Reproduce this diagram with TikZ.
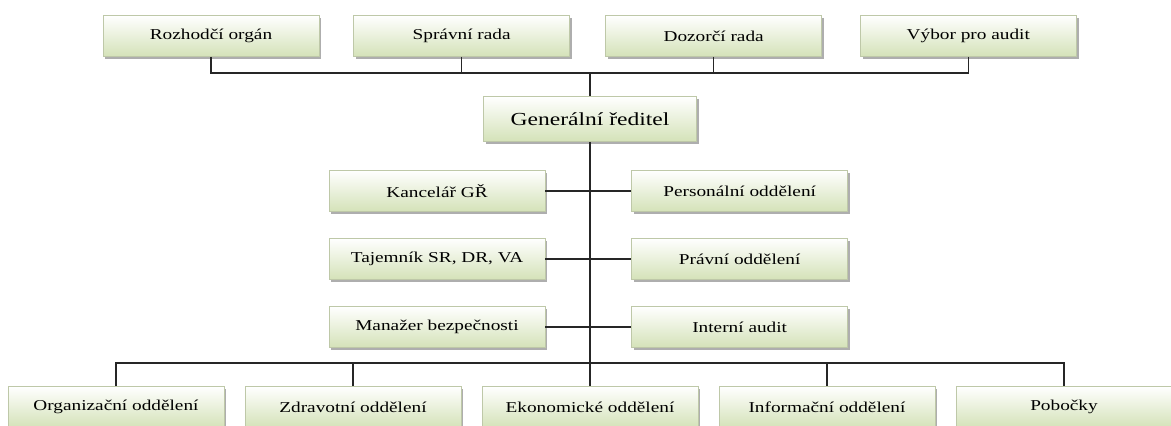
\documentclass[tikz,border=0pt]{standalone}
\usepackage{fontspec}
\setmainfont{Liberation Serif}[FakeStretch=1.28]
\usetikzlibrary{shadows}

\definecolor{boxgreen}{RGB}{212,226,184}
\definecolor{boxedge}{RGB}{190,200,168}
\tikzstyle{unit} = [rectangle,draw=boxedge,top color=white,bottom color=boxgreen,minimum width=162pt,minimum height=31pt,inner sep=0pt,font=\fontsize{11.3}{13}\selectfont,text=black,drop shadow={shadow xshift=1.8pt,shadow yshift=-1.8pt,fill=black!45,opacity=0.7}]
\tikzstyle{boss} = [unit,minimum width=160pt,minimum height=34pt,font=\fontsize{13.8}{16}\selectfont]
\tikzstyle{link} = [draw=black!85,line width=0.8pt]

\begin{document}
\begin{tikzpicture}[x=0.75pt,y=-0.75pt]
	\clip (0,0) rectangle (1171,425);
	% board level
	\node (rozhodci) [unit] at (211,36) {Rozhodčí orgán};
	\node (spravni) [unit,right of=rozhodci,node distance=188pt] {Správní rada};
	\node (dozorci) [unit,right of=spravni,node distance=189pt] {Dozorčí rada};
	\node (vybor) [unit,right of=dozorci,node distance=191pt] {Výbor pro audit};
	\node (gr) [boss] at (590,119) {Generální ředitel};
	% staff units
	\node (kancelar) [unit] at (437,191) {Kancelář GŘ};
	\node (personal) [unit,right of=kancelar,node distance=227pt] {Personální oddělení};
	\node (tajemnik) [unit,below of=kancelar,node distance=51pt] {Tajemník SR, DR, VA};
	\node (pravni) [unit,right of=tajemnik,node distance=227pt] {Právní oddělení};
	\node (manazer) [unit,below of=tajemnik,node distance=51pt] {Manažer bezpečnosti};
	\node (audit) [unit,right of=manazer,node distance=227pt] {Interní audit};
	% departments
	\node (org) [unit] at (116,407) {Organizační oddělení};
	\node (zdrav) [unit,right of=org,node distance=177.75pt] {Zdravotní oddělení};
	\node (eko) [unit,right of=zdrav,node distance=177.75pt] {Ekonomické oddělení};
	\node (info) [unit,right of=eko,node distance=177.75pt] {Informační oddělení};
	\node (pobocky) [unit,right of=info,node distance=177.75pt] {Pobočky};
	\coordinate (topbus) at (590,73);
	\coordinate (botbus) at (590,363);
	\draw [link] (rozhodci.south) |- (topbus);
	\draw [link] (spravni.south) |- (topbus);
	\draw [link] (dozorci.south) |- (topbus);
	\draw [link] (vybor.south) |- (topbus);
	\draw [link] (topbus) -- (gr.north);
	\draw [link] (gr.south) -- (botbus);
	\draw [link] (kancelar.east) -- (personal.west);
	\draw [link] (tajemnik.east) -- (pravni.west);
	\draw [link] (manazer.east) -- (audit.west);
	\draw [link] (botbus) -| (org.north);
	\draw [link] (botbus) -| (zdrav.north);
	\draw [link] (botbus) -- (eko.north);
	\draw [link] (botbus) -| (info.north);
	\draw [link] (botbus) -| (pobocky.north);
\end{tikzpicture}
\end{document}
